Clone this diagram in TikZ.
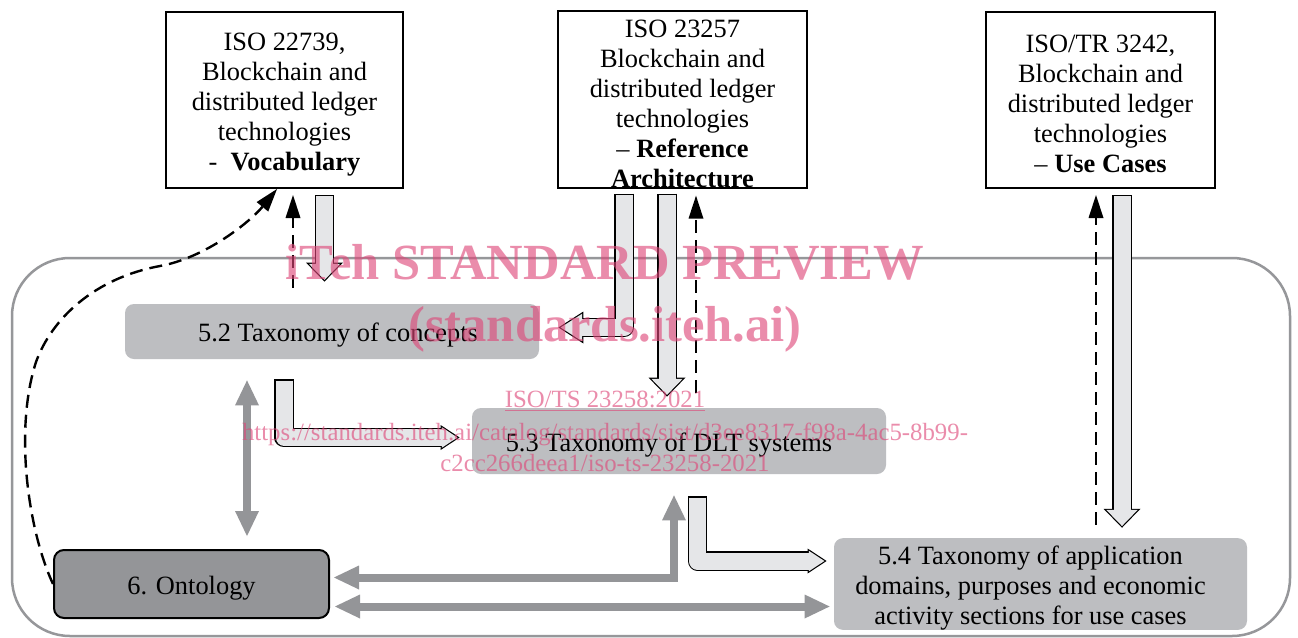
\documentclass[tikz,border=0pt]{standalone}
\usepackage{fontspec}
\setmainfont{Liberation Serif}
\usetikzlibrary{arrows.meta}

\definecolor{boxgray}{RGB}{189,190,193}
\definecolor{ontogray}{RGB}{148,149,152}
\definecolor{linkgray}{RGB}{148,149,152}
\definecolor{framegray}{RGB}{150,151,154}
\definecolor{arrowfill}{RGB}{229,230,232}
\definecolor{markpink}{RGB}{222,70,120}

\newcommand{\toppad}{\rule{0pt}{13pt}}

\tikzset{
  isobox/.style={draw=black, line width=1pt, fill=white, align=center, inner sep=0pt},
  taxbox/.style={fill=boxgray, rounded corners=4.5pt, align=center, inner sep=0pt},
  ontobox/.style={draw=black, line width=1pt, fill=ontogray, rounded corners=5pt, inner sep=0pt},
  rim/.style 2 args={draw=black, line width=9.7pt, line join=round,
    -{Triangle[width=#1, length=#2, line width=0pt]}},
  core/.style 2 args={draw=arrowfill, line width=8.5pt, line join=round,
    -{Triangle[width=#1, length=#2, line width=0pt]}},
  dashlink/.style={draw=black, line width=1.2pt, dash pattern=on 6.5pt off 3.5pt,
    -{Triangle[width=7.5pt, length=11.5pt, line width=0pt]}},
  graylink/.style={draw=linkgray, line width=4pt, line join=miter,
    {Triangle[width=12pt, length=12.5pt, line width=0pt]}-{Triangle[width=12pt, length=12.5pt, line width=0pt]}},
  wmark/.style={text=markpink, text opacity=0.62, inner sep=0pt, anchor=base},
}

\begin{document}
\begin{tikzpicture}[x=0.5pt, y=-0.5pt, font=\fontsize{13.2}{15}\selectfont]
  \path[use as bounding box, fill=white] (0,0) rectangle (1298,638);

  \draw[framegray, line width=1.25pt, rounded corners=29pt] (12,258) rectangle (1290,636);

  % standards on top
  \node[isobox, minimum width=118.5pt, minimum height=88pt] (vocab) at (284.5,100)
    {\toppad ISO 22739,\\Blockchain and\\distributed ledger\\technologies\\-\ \ \textbf{Vocabulary}};
  \node[isobox, minimum width=124.5pt, minimum height=87.5pt] (arch) at (682.5,99.5)
    {\toppad ISO 23257\\Blockchain and\\distributed ledger\\technologies\\\textendash\ \textbf{Reference}\\\textbf{Architecture}};
  \node[isobox, minimum width=114.5pt, minimum height=88pt] (usecase) at (1100.5,100)
    {\toppad ISO/TR 3242,\\Blockchain and\\distributed ledger\\technologies\\\textendash\ \textbf{Use Cases}};

  % taxonomies and ontology
  \node[taxbox, minimum width=207pt, minimum height=27.5pt] (c52) at (332,331.5)
    {\toppad\hbox to 6pt{}5.2 Taxonomy of concepts};
  \node[taxbox, minimum width=207pt, minimum height=33pt] (c53) at (679,441)
    {\toppad 5.3 Taxonomy of DLT systems\hbox to 10pt{}};
  \node[taxbox, minimum width=206.5pt, minimum height=44pt] (c54) at (1040.5,584)
    {\toppad 5.4 Taxonomy of application\hbox to 10pt{}\\domains, purposes and economic\hbox to 10pt{}\\activity sections for use cases\hbox to 10pt{}};
  \node[ontobox, minimum width=137.5pt, minimum height=34pt] (onto) at (191.5,584) {\toppad 6. Ontology};

  % hollow block arrows
  \draw[rim={18.5pt}{9.5pt}, shorten <=3pt, shorten >=11pt] (324.5,0 |- vocab.south) -- (324.5,0 |- c52.north);
  \draw[core={15.65pt}{8.04pt}, shorten <=3.6pt, shorten >=11.86pt] (324.5,0 |- vocab.south) -- (324.5,0 |- c52.north);

  \draw[rim={16pt}{12.5pt}, shorten <=2.5pt, shorten >=9.5pt] (624,0 |- arch.south) |- ([yshift=2pt]c52.east);
  \draw[core={13.81pt}{10.79pt}, shorten <=3.1pt, shorten >=10.61pt] (624,0 |- arch.south) |- ([yshift=2pt]c52.east);

  \draw[rim={18.5pt}{9.5pt}, shorten <=2.5pt, shorten >=5.5pt] (667,0 |- arch.south) -- (667,0 |- c53.north);
  \draw[core={15.65pt}{8.04pt}, shorten <=3.1pt, shorten >=6.36pt] (667,0 |- arch.south) -- (667,0 |- c53.north);

  \draw[rim={18.5pt}{9.5pt}, shorten <=3pt, shorten >=5pt] (1122,0 |- usecase.south) -- (1122,0 |- c54.north);
  \draw[core={15.65pt}{8.04pt}, shorten <=3.6pt, shorten >=5.86pt] (1122,0 |- usecase.south) -- (1122,0 |- c54.north);

  \draw[rim={12.5pt}{9.5pt}, shorten <=10pt, shorten >=6pt] (284,0 |- c52.south) |- ([yshift=1.75pt]c53.west);
  \draw[core={10.28pt}{7.81pt}, shorten <=10.6pt, shorten >=7.09pt] (284,0 |- c52.south) |- ([yshift=1.75pt]c53.west);

  \draw[rim={12.5pt}{9.5pt}, shorten <=11pt, shorten >=3.5pt] (697.5,0 |- c53.south) |- ([yshift=11.5pt]c54.west);
  \draw[core={10.28pt}{7.81pt}, shorten <=11.6pt, shorten >=4.59pt] (697.5,0 |- c53.south) |- ([yshift=11.5pt]c54.west);

  % dashed references back to the standards
  \draw[dashlink, shorten <=8pt, shorten >=3pt] (293,0 |- c52.north) -- (293,0 |- vocab.south);
  \draw[dashlink, shorten <=7.5pt, shorten >=3.5pt] (696,0 |- c53.north) -- (696,0 |- arch.south);
  \draw[dashlink, shorten <=6.5pt, shorten >=3pt] (1096,0 |- c54.north) -- (1096,0 |- usecase.south);
  \draw[dashlink] (onto.west) .. controls (28,530) and (14,430) .. (36,362)
    .. controls (52,318) and (95,278) .. (160,266)
    .. controls (205,258) and (250,222) .. ([xshift=-3.75pt]vocab.south);

  % gray two-way links
  \draw[graylink, shorten <=10.5pt, shorten >=6.5pt] (247,0 |- c52.south) -- (247,0 |- onto.north);
  \draw[graylink, shorten <=2pt, shorten >=10.5pt] ([yshift=3.25pt]onto.east) -| (674,0 |- c53.south);
  \draw[graylink, shorten <=2.5pt, shorten >=2pt] ([yshift=-11.25pt]onto.east) -- ([yshift=-11.25pt]c54.west);

  % watermark
  \node[wmark, font=\bfseries\fontsize{25.3}{30}\selectfont] (wmtitle) at (605,279) {iTeh STANDARD PREVIEW};
  \node[wmark, font=\bfseries\fontsize{25.3}{30}\selectfont] (wmsite) at (605,341) {(standards.iteh.ai)};
  \node[wmark, font=\fontsize{12.4}{15}\selectfont] (wmcode) at (605,407) {\underline{ISO/TS 23258:2021}};
  \node[wmark, font=\fontsize{12.4}{15}\selectfont] (wmurl) at (605,440)
    {https://standards.iteh.ai/catalog/standards/sist/d3ee8317-f98a-4ac5-8b99-};
  \node[wmark, font=\fontsize{12.4}{15}\selectfont] (wmurltail) at (605,471) {c2cc266deea1/iso-ts-23258-2021};
\end{tikzpicture}
\end{document}
